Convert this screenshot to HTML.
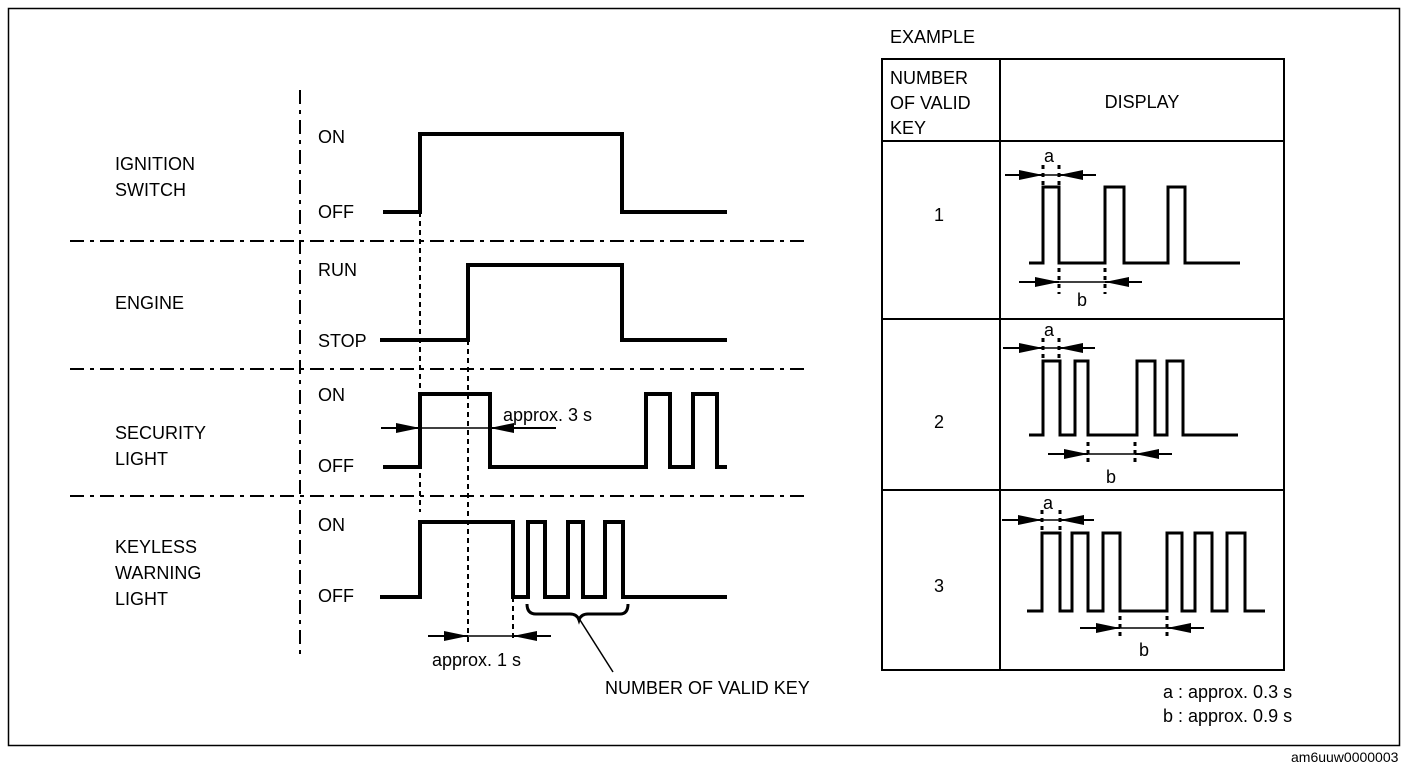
<!DOCTYPE html>
<html><head><meta charset="utf-8"><style>
html,body{margin:0;padding:0;background:#fff;}
svg{display:block;}
text{font-family:"Liberation Sans",Arial,sans-serif;font-size:18px;fill:#000;}
</style></head><body>
<svg width="1408" height="774" viewBox="0 0 1408 774" xmlns="http://www.w3.org/2000/svg">
<defs>
<marker id="ar2" viewBox="0 0 10 10" refX="10" refY="5" markerWidth="24" markerHeight="10" markerUnits="userSpaceOnUse" orient="auto" preserveAspectRatio="none"><path d="M0,0 L10,5 L0,10 z" fill="#000"/></marker>
</defs>
<rect x="8.5" y="8.5" width="1391" height="737" fill="none" stroke="#000" stroke-width="1.5"/>
<text x="1291" y="762" style="font-size:14px">am6uuw0000003</text>

<g stroke="#000" stroke-width="2" fill="none" stroke-dasharray="14,6,4,6">
<line x1="300" y1="90" x2="300" y2="655"/>
<line x1="70" y1="241" x2="810" y2="241"/>
<line x1="70" y1="369" x2="810" y2="369"/>
<line x1="70" y1="496" x2="810" y2="496"/>
</g>
<g stroke="#000" stroke-width="2" fill="none" stroke-dasharray="5,4">
<line x1="420" y1="212" x2="420" y2="512"/>
<line x1="468" y1="340" x2="468" y2="642"/>
<line x1="513" y1="597" x2="513" y2="642"/>
</g>

<text x="115" y="170">IGNITION</text><text x="115" y="196">SWITCH</text>
<text x="115" y="309">ENGINE</text>
<text x="115" y="439">SECURITY</text><text x="115" y="465">LIGHT</text>
<text x="115" y="553">KEYLESS</text><text x="115" y="579">WARNING</text><text x="115" y="605">LIGHT</text>
<text x="318" y="143">ON</text><text x="318" y="218">OFF</text>
<text x="318" y="276">RUN</text><text x="318" y="347">STOP</text>
<text x="318" y="401">ON</text><text x="318" y="472">OFF</text>
<text x="318" y="531">ON</text><text x="318" y="602">OFF</text>

<g stroke="#000" stroke-width="4" fill="none" stroke-linejoin="miter">
<polyline points="383,212 420,212 420,134 622,134 622,212 727,212"/>
<polyline points="380,340 468,340 468,265 622,265 622,340 727,340"/>
<polyline points="383,467 420,467 420,394 490,394 490,467 646,467 646,394 670,394 670,467 693,467 693,394 717,394 717,467 727,467"/>
<polyline points="380,597 420,597 420,522 513,522 513,597 528,597 528,522 545,522 545,597 568,597 568,522 583,522 583,597 605,597 605,522 623,522 623,597 727,597"/>
</g>

<g stroke="#000" stroke-width="2">
<line x1="381" y1="428" x2="420" y2="428" marker-end="url(#ar2)"/>
<line x1="420" y1="428" x2="490" y2="428" stroke-width="1.5"/>
<line x1="556" y1="428" x2="490" y2="428" marker-end="url(#ar2)"/>
<line x1="428" y1="636" x2="468" y2="636" marker-end="url(#ar2)"/>
<line x1="468" y1="636" x2="513" y2="636" stroke-width="1.5"/>
<line x1="551" y1="636" x2="513" y2="636" marker-end="url(#ar2)"/>
</g>
<text x="503" y="421">approx. 3 s</text>
<text x="432" y="666">approx. 1 s</text>
<path d="M527,604 Q527,614 536,614 L570,614 Q577,614 579,620 Q581,614 588,614 L620,614 Q628,614 628,604" stroke="#000" stroke-width="3" fill="none"/>
<line x1="580" y1="620" x2="613" y2="672" stroke="#000" stroke-width="1.5"/>
<text x="605" y="694">NUMBER OF VALID KEY</text>

<text x="890" y="43">EXAMPLE</text>
<g stroke="#000" stroke-width="2" fill="none">
<rect x="882" y="59" width="402" height="611"/>
<line x1="1000" y1="59" x2="1000" y2="670"/>
<line x1="882" y1="141" x2="1284" y2="141"/>
<line x1="882" y1="319" x2="1284" y2="319"/>
<line x1="882" y1="490" x2="1284" y2="490"/>
</g>
<text x="890" y="84">NUMBER</text><text x="890" y="109">OF VALID</text><text x="890" y="134">KEY</text>
<text x="1142" y="108" text-anchor="middle">DISPLAY</text>
<text x="939" y="221" text-anchor="middle">1</text>
<text x="939" y="428" text-anchor="middle">2</text>
<text x="939" y="592" text-anchor="middle">3</text>

<g stroke="#000" stroke-width="3" fill="none">
<polyline points="1029,263 1043,263 1043,187 1059,187 1059,263 1105,263 1105,187 1124,187 1124,263 1168,263 1168,187 1185,187 1185,263 1240,263"/>
<polyline points="1029,435 1043,435 1043,361 1060,361 1060,435 1075,435 1075,361 1088,361 1088,435 1137,435 1137,361 1155,361 1155,435 1167,435 1167,361 1183,361 1183,435 1238,435"/>
<polyline points="1027,611 1042,611 1042,533 1060,533 1060,611 1072,611 1072,533 1088,533 1088,611 1103,611 1103,533 1120,533 1120,611 1167,611 1167,533 1182,533 1182,611 1195,611 1195,533 1212,533 1212,611 1227,611 1227,533 1245,533 1245,611 1265,611"/>
</g>
<g stroke="#000" stroke-width="2">
<line x1="1005" y1="175" x2="1043" y2="175" marker-end="url(#ar2)"/><line x1="1043" y1="175" x2="1059" y2="175" stroke-width="1.5"/><line x1="1096" y1="175" x2="1059" y2="175" marker-end="url(#ar2)"/>
<line x1="1019" y1="282" x2="1059" y2="282" marker-end="url(#ar2)"/><line x1="1059" y1="282" x2="1105" y2="282" stroke-width="1.5"/><line x1="1142" y1="282" x2="1105" y2="282" marker-end="url(#ar2)"/>
<line x1="1003" y1="348" x2="1043" y2="348" marker-end="url(#ar2)"/><line x1="1043" y1="348" x2="1059" y2="348" stroke-width="1.5"/><line x1="1095" y1="348" x2="1059" y2="348" marker-end="url(#ar2)"/>
<line x1="1048" y1="454" x2="1088" y2="454" marker-end="url(#ar2)"/><line x1="1088" y1="454" x2="1135" y2="454" stroke-width="1.5"/><line x1="1172" y1="454" x2="1135" y2="454" marker-end="url(#ar2)"/>
<line x1="1002" y1="520" x2="1042" y2="520" marker-end="url(#ar2)"/><line x1="1042" y1="520" x2="1060" y2="520" stroke-width="1.5"/><line x1="1094" y1="520" x2="1060" y2="520" marker-end="url(#ar2)"/>
<line x1="1080" y1="628" x2="1120" y2="628" marker-end="url(#ar2)"/><line x1="1120" y1="628" x2="1167" y2="628" stroke-width="1.5"/><line x1="1204" y1="628" x2="1167" y2="628" marker-end="url(#ar2)"/>
</g>
<g stroke="#000" stroke-width="3" stroke-dasharray="4,4">
<line x1="1043" y1="165" x2="1043" y2="185"/><line x1="1059" y1="165" x2="1059" y2="185"/>
<line x1="1059" y1="268" x2="1059" y2="294"/><line x1="1105" y1="268" x2="1105" y2="294"/>
<line x1="1043" y1="338" x2="1043" y2="358"/><line x1="1059" y1="338" x2="1059" y2="358"/>
<line x1="1088" y1="442" x2="1088" y2="466"/><line x1="1135" y1="442" x2="1135" y2="466"/>
<line x1="1042" y1="510" x2="1042" y2="530"/><line x1="1060" y1="510" x2="1060" y2="530"/>
<line x1="1120" y1="616" x2="1120" y2="640"/><line x1="1167" y1="616" x2="1167" y2="640"/>
</g>
<text x="1044" y="162">a</text><text x="1077" y="306">b</text>
<text x="1044" y="336">a</text><text x="1106" y="483">b</text>
<text x="1043" y="509">a</text><text x="1139" y="656">b</text>
<text x="1163" y="698">a : approx. 0.3 s</text>
<text x="1163" y="722">b : approx. 0.9 s</text>
</svg>
</body></html>
